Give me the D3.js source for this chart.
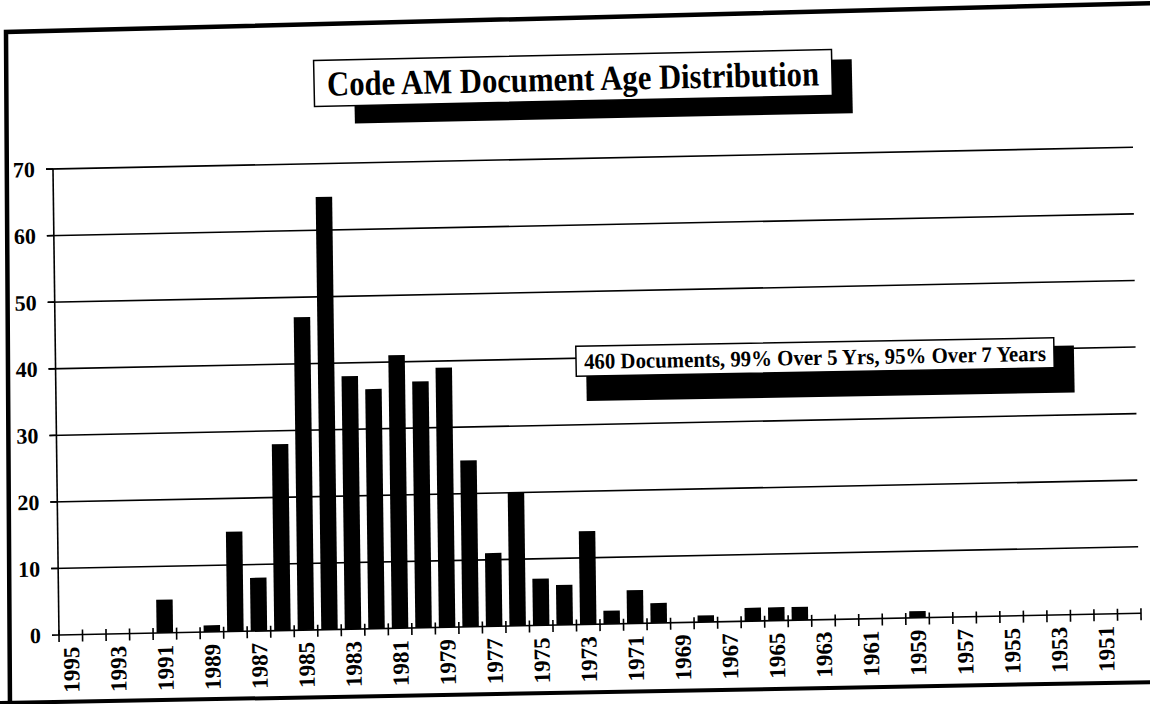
<!DOCTYPE html>
<html><head><meta charset="utf-8">
<script src="https://cdn.jsdelivr.net/npm/d3@7"></script>
<style>html,body{margin:0;padding:0;background:#fff;} svg{display:block;}</style>
</head><body>
<svg id="chart" width="1150" height="704"></svg>
<script>
// ---- data ----
const years = [1995,1994,1993,1992,1991,1990,1989,1988,1987,1986,1985,1984,1983,1982,1981,1980,
  1979,1978,1977,1976,1975,1974,1973,1972,1971,1970,1969,1968,1967,1966,1965,1964,1963,1962,
  1961,1960,1959,1958,1957,1956,1955,1954,1953,1952,1951,1950];
const counts = [0,0,0,0,5,0,1,15,8,28,47,65,38,36,41,37,
  39,25,11,20,7,6,14,2,5,3,0,1,0,2,2,2,0,0,
  0,0,1,0,0,0,0,0,0,0,0,0];
const yTickValues = [0,10,20,30,40,50,60,70];
const xTickLabels = ["1995","1993","1991","1989","1987","1985","1983","1981","1979","1977","1975",
  "1973","1971","1969","1967","1965","1963","1961","1959","1957","1955","1953","1951"];
const titleText = "Code AM Document Age Distribution";
const noteText = "460 Documents, 99% Over 5 Yrs, 95% Over 7 Years";

// ---- layout ----
const W = 1150, H = 704;
const ox = 59, oy = 635, plotW = 1082, plotH = 466;
const font = "'Liberation Serif','Times New Roman',serif";

const svg = d3.select("#chart");
svg.append("rect").attr("width", W).attr("height", H).attr("fill", "#fff");

// scanned page: slight tilt / shear of the plot area
const g = svg.append("g").attr("transform", `matrix(1,-0.0201,0.0129,1,${ox},${oy})`);

const x = d3.scaleBand().domain(years).range([0, plotW]).paddingInner(0.3).paddingOuter(0.15);
const y = d3.scaleLinear().domain([0, 70]).range([0, -plotH]);

// gridlines
g.selectAll("line.grid").data(yTickValues.filter(v => v > 0)).join("line")
  .attr("class", "grid")
  .attr("x1", -7).attr("x2", plotW - 2)
  .attr("y1", d => y(d)).attr("y2", d => y(d))
  .attr("stroke", "#000").attr("stroke-width", 1.6);

// y axis line & ticks
g.append("line").attr("x1", 0).attr("x2", 0).attr("y1", y(0)).attr("y2", y(70))
  .attr("stroke", "#000").attr("stroke-width", 1.6);
g.selectAll("line.ytick").data(yTickValues).join("line")
  .attr("class", "ytick")
  .attr("x1", -7).attr("x2", 0).attr("y1", d => y(d)).attr("y2", d => y(d))
  .attr("stroke", "#000").attr("stroke-width", 1.6);

// y labels
g.selectAll("text.ylab").data(yTickValues).join("text")
  .attr("class", "ylab")
  .attr("x", -18).attr("y", d => y(d)).attr("dy", "0.35em")
  .attr("text-anchor", "end")
  .attr("font-family", font).attr("font-weight", "bold").attr("font-size", 22)
  .text(d => d);

// bars
const bw = x.bandwidth();
g.selectAll("rect.bar").data(years.map((yr, i) => ({yr, v: counts[i]})).filter(d => d.v > 0)).join("rect")
  .attr("class", "bar")
  .attr("x", d => x(d.yr)).attr("width", bw)
  .attr("y", d => y(d.v)).attr("height", d => y(0) - y(d.v))
  .attr("fill", "#000");

// x axis line and boundary ticks
g.append("line").attr("x1", 0).attr("x2", plotW).attr("y1", 0).attr("y2", 0)
  .attr("stroke", "#000").attr("stroke-width", 1.6);
const halfGap = x.step() * x.paddingInner() / 2;
const boundaries = years.map(yr => x(yr) - halfGap).concat([plotW]);
g.selectAll("line.xtick").data(boundaries).join("line")
  .attr("class", "xtick")
  .attr("x1", d => d).attr("x2", d => d).attr("y1", -5).attr("y2", 7)
  .attr("stroke", "#000").attr("stroke-width", 1.6);

// x labels
g.selectAll("text.xlab").data(xTickLabels).join("text")
  .attr("class", "xlab")
  .attr("transform", d => `translate(${x(+d) + bw / 2},12) rotate(-90)`)
  .attr("dy", "0.35em")
  .attr("text-anchor", "end")
  .attr("font-family", font).attr("font-weight", "bold").attr("font-size", 23)
  .text(d => d);

// frame
svg.append("path").attr("d", "M1160,3 L6,32 L10,710").attr("fill", "none")
  .attr("stroke", "#000").attr("stroke-width", 4.5);
svg.append("path").attr("d", "M0,703 L1160,682").attr("fill", "none")
  .attr("stroke", "#000").attr("stroke-width", 4);

// boxes with drop shadow
function shadowBox(cx, cy, w, h, sx0, sx1, sy0, sy1, text, fs, tl, rot) {
  const bg = svg.append("g").attr("transform", `translate(${cx},${cy}) rotate(${rot})`);
  bg.append("rect").attr("x", -w / 2 + sx0).attr("y", -h / 2 + sy0)
    .attr("width", w - sx0 + sx1).attr("height", h - sy0 + sy1).attr("fill", "#000");
  bg.append("rect").attr("x", -w / 2).attr("y", -h / 2).attr("width", w).attr("height", h)
    .attr("fill", "#fff").attr("stroke", "#000").attr("stroke-width", 1.5);
  bg.append("text").attr("x", 0).attr("y", 0).attr("dy", "0.36em").attr("text-anchor", "middle")
    .attr("font-family", font).attr("font-weight", "bold").attr("font-size", fs)
    .attr("textLength", tl).attr("lengthAdjust", "spacingAndGlyphs")
    .text(text);
}
shadowBox(573, 78, 518, 46, 40, 20, 10, 18, titleText, 35, 492, -1.2);
shadowBox(815, 357, 478, 30, 10, 20, 8, 25, noteText, 22, 462, -1.0);
</script>
</body></html>
